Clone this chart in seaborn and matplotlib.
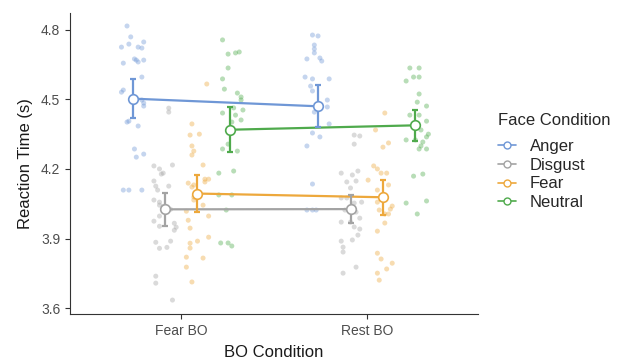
import matplotlib.pyplot as plt
import numpy as np
import pandas as pd
import seaborn as sns
from matplotlib.lines import Line2D

bo_levels = ["Fear BO", "Rest BO"]
face_levels = ["Anger", "Disgust", "Fear", "Neutral"]
face_colors = ["#6F97D6", "#A3A3A3", "#EDA83C", "#4FAA4C"]

# condition means and 95% CI, order = face_levels
mean_fear_bo = [4.503, 4.026, 4.094, 4.369]
mean_rest_bo = [4.470, 4.027, 4.078, 4.388]
ci_low_fear_bo = [4.418, 3.953, 4.013, 4.272]
ci_high_fear_bo = [4.589, 4.097, 4.174, 4.466]
ci_low_rest_bo = [4.379, 3.968, 4.001, 4.322]
ci_high_rest_bo = [4.560, 4.087, 4.152, 4.454]

# individual participant RTs and their horizontal jitter
anger_fear_rt = [4.816, 4.769, 4.725, 4.738, 4.725, 4.747, 4.721, 4.656, 4.674, 4.669,
                 4.661, 4.669, 4.596, 4.540, 4.531, 4.497, 4.471, 4.484, 4.402, 4.406,
                 4.385, 4.286, 4.251, 4.264, 4.109, 4.109, 4.109]
anger_fear_jit = [-0.03, -0.01, -0.06, -0.02, 0.03, 0.06, 0.05, -0.05, 0.01, 0.02,
                  0.03, 0.06, 0.05, -0.05, -0.06, 0.05, 0.06, 0.06, -0.03, -0.02,
                  0.03, 0.01, 0.02, 0.06, -0.05, -0.02, 0.05]
disgust_fear_rt = [4.462, 4.445, 4.213, 4.200, 4.182, 4.178, 4.217, 4.148, 4.126, 4.126,
                   4.109, 4.066, 4.057, 4.044, 4.039, 4.026, 3.997, 3.975, 3.953, 3.966,
                   3.949, 3.936, 3.884, 3.858, 3.862, 3.889, 3.738, 3.708, 3.635]
disgust_fear_jit = [0.02, 0.02, -0.06, -0.03, -0.01, -0.02, 0.04, -0.06, -0.05, 0.02,
                    -0.04, -0.06, -0.03, -0.03, -0.01, 0.03, -0.03, -0.06, -0.03, 0.05,
                    0.06, 0.05, -0.05, -0.03, 0.01, 0.03, -0.05, -0.05, 0.04]
fear_fear_rt = [4.566, 4.394, 4.346, 4.350, 4.299, 4.277, 4.260, 4.217, 4.139, 4.131,
                4.144, 4.156, 4.156, 4.122, 4.066, 4.079, 4.044, 4.018, 3.997, 3.979,
                3.945, 3.880, 3.889, 3.906, 3.859, 3.820, 3.816, 3.777, 3.713]
fear_fear_jit = [0.05, -0.03, -0.04, 0.01, -0.03, -0.02, -0.03, 0.03, -0.05, -0.02,
                 0.04, 0.06, 0.04, -0.03, -0.02, -0.02, 0.03, -0.06, 0.06, -0.05,
                 -0.04, -0.04, 0.00, 0.06, -0.04, -0.06, 0.03, -0.06, -0.03]
neutral_fear_rt = [4.756, 4.695, 4.700, 4.704, 4.635, 4.588, 4.544, 4.527, 4.510, 4.497,
                   4.463, 4.454, 4.441, 4.432, 4.411, 4.402, 4.307, 4.286, 4.277, 4.182,
                   4.191, 4.088, 4.088, 4.023, 3.881, 3.881, 3.868]
neutral_fear_jit = [-0.04, -0.01, 0.03, 0.05, -0.01, -0.04, -0.03, 0.04, 0.06, 0.06,
                    0.02, 0.07, -0.04, 0.03, 0.06, 0.01, -0.01, -0.04, 0.04, -0.06,
                    0.02, -0.06, 0.01, -0.02, -0.05, -0.01, 0.01]
anger_rest_rt = [4.777, 4.773, 4.734, 4.717, 4.700, 4.674, 4.678, 4.665, 4.596, 4.588,
                 4.588, 4.557, 4.536, 4.497, 4.467, 4.445, 4.394, 4.355, 4.338, 4.299,
                 4.135, 4.023, 4.023, 4.023]
anger_rest_jit = [-0.03, 0.00, -0.02, -0.02, -0.02, -0.06, 0.01, 0.02, -0.07, -0.03,
                  0.06, -0.04, -0.03, 0.05, 0.05, -0.02, 0.06, -0.03, 0.01, -0.06,
                  -0.03, -0.06, -0.03, -0.01]
disgust_rest_rt = [4.346, 4.342, 4.307, 4.182, 4.174, 4.191, 4.144, 4.148, 4.118, 4.075,
                   4.075, 4.053, 4.057, 4.023, 4.014, 3.971, 3.971, 3.988, 3.950, 3.941,
                   3.915, 3.889, 3.894, 3.863, 3.842, 3.777, 3.751]
disgust_rest_jit = [0.02, 0.05, 0.02, -0.05, 0.01, 0.04, -0.02, 0.03, 0.00, -0.05,
                    -0.02, 0.02, 0.06, -0.03, 0.03, -0.05, 0.00, 0.05, 0.02, 0.05,
                    0.04, -0.05, 0.01, -0.04, -0.04, 0.03, -0.04]
fear_rest_rt = [4.441, 4.368, 4.312, 4.294, 4.213, 4.200, 4.182, 4.182, 4.152, 4.109,
                4.131, 4.057, 4.040, 4.027, 4.023, 4.006, 4.006, 3.967, 3.932, 3.837,
                3.812, 3.794, 3.769, 3.751, 3.721]
fear_rest_jit = [0.01, -0.04, 0.03, 0.00, -0.05, -0.03, -0.01, 0.02, -0.08, -0.03,
                 0.03, -0.03, 0.05, 0.04, -0.02, 0.01, 0.03, 0.01, -0.03, -0.03,
                 -0.01, 0.05, 0.02, -0.03, -0.02]
neutral_rest_rt = [4.635, 4.635, 4.579, 4.596, 4.596, 4.523, 4.488, 4.471, 4.432, 4.432,
                   4.406, 4.389, 4.368, 4.350, 4.325, 4.325, 4.316, 4.338, 4.299, 4.286,
                   4.286, 4.169, 4.178, 4.053, 4.062, 4.006]
neutral_rest_jit = [-0.03, 0.02, -0.05, -0.01, 0.02, 0.02, 0.01, 0.06, -0.03, 0.02,
                    0.06, 0.00, 0.03, 0.07, -0.05, 0.00, 0.04, 0.06, 0.03, 0.02,
                    0.06, -0.01, 0.04, -0.05, 0.06, 0.01]

DODGE = 0.7  # same as position_dodge(0.7)


def dodge_offset(face):
    step = DODGE / len(face_levels)
    return (face_levels.index(face) - (len(face_levels) - 1) / 2) * step


def build_points():
    groups = [
        ("Fear BO", "Anger", anger_fear_rt, anger_fear_jit),
        ("Fear BO", "Disgust", disgust_fear_rt, disgust_fear_jit),
        ("Fear BO", "Fear", fear_fear_rt, fear_fear_jit),
        ("Fear BO", "Neutral", neutral_fear_rt, neutral_fear_jit),
        ("Rest BO", "Anger", anger_rest_rt, anger_rest_jit),
        ("Rest BO", "Disgust", disgust_rest_rt, disgust_rest_jit),
        ("Rest BO", "Fear", fear_rest_rt, fear_rest_jit),
        ("Rest BO", "Neutral", neutral_rest_rt, neutral_rest_jit),
    ]
    frames = []
    for bo, face, rt, jit in groups:
        x = bo_levels.index(bo) + dodge_offset(face) + np.array(jit)
        frames.append(pd.DataFrame({"bo": bo, "face": face, "x": x, "rt": rt}))
    return pd.concat(frames, ignore_index=True)


def build_means():
    rows = []
    for bo, means, lo, hi in [
        ("Fear BO", mean_fear_bo, ci_low_fear_bo, ci_high_fear_bo),
        ("Rest BO", mean_rest_bo, ci_low_rest_bo, ci_high_rest_bo),
    ]:
        for face, m, l, h in zip(face_levels, means, lo, hi):
            rows.append({"bo": bo, "face": face,
                         "x": bo_levels.index(bo) + dodge_offset(face),
                         "rt": m, "lo": l, "hi": h})
    return pd.DataFrame(rows)


def main():
    sns.set_style("ticks")
    plt.rcParams["font.family"] = ["Liberation Sans", "DejaVu Sans"]

    points = build_points()
    means = build_means()
    palette = dict(zip(face_levels, face_colors))

    fig = plt.figure(figsize=(6.22, 3.62), dpi=100)
    ax = fig.add_axes([70 / 622, 48 / 362, 408 / 622, 301 / 362])

    # raw data, faint
    sns.scatterplot(data=points, x="x", y="rt", hue="face", hue_order=face_levels,
                    palette=palette, s=13, alpha=0.4, linewidth=0, legend=False,
                    ax=ax, zorder=1)

    # mean lines
    sns.lineplot(data=means, x="x", y="rt", hue="face", hue_order=face_levels,
                 palette=palette, estimator=None, linewidth=1.6, legend=False,
                 ax=ax, zorder=2)

    for face, color in zip(face_levels, face_colors):
        sub = means[means["face"] == face]
        ax.errorbar(sub["x"], sub["rt"],
                    yerr=[sub["rt"] - sub["lo"], sub["hi"] - sub["rt"]],
                    fmt="none", ecolor=color, elinewidth=1.6, capsize=2.5,
                    capthick=1.6, zorder=3)
        ax.scatter(sub["x"], sub["rt"], s=48, facecolors="white",
                   edgecolors=color, linewidths=1.2, zorder=4)

    ax.set_xlim(-0.6, 1.6)
    ax.set_ylim(3.575, 4.872)
    ax.set_xticks([0, 1])
    ax.set_xticklabels(bo_levels)
    ax.set_yticks([3.6, 3.9, 4.2, 4.5, 4.8])
    ax.set_yticklabels(["3.6", "3.9", "4.2", "4.5", "4.8"])
    ax.tick_params(axis="both", labelsize=10, labelcolor="#4D4D4D",
                   color="#333333", length=3.5, width=0.8)
    for side in ["top", "right"]:
        ax.spines[side].set_visible(False)
    for side in ["left", "bottom"]:
        ax.spines[side].set_color("#333333")
        ax.spines[side].set_linewidth(0.8)

    ax.set_xlabel("BO Condition", fontsize=12, color="#1A1A1A", labelpad=5)
    ax.set_ylabel("Reaction Time (s)", fontsize=12, color="#1A1A1A", labelpad=6)

    handles = [
        Line2D([0], [0], color=c, lw=1.2, marker="o", markersize=5,
               markerfacecolor="white", markeredgecolor=c, markeredgewidth=1.0)
        for c in face_colors
    ]
    leg = fig.legend(handles, face_levels, title="Face Condition", loc="upper left",
                     bbox_to_anchor=(498 / 622, 1 - 113 / 362), frameon=False,
                     fontsize=12, title_fontsize=12, handlelength=1.1,
                     handletextpad=0.8, labelspacing=0.22, alignment="left",
                     borderpad=0, borderaxespad=0)
    leg._legend_box.sep = 8

    fig.savefig("out.png", dpi=100)
    plt.close(fig)


if __name__ == "__main__":
    main()
